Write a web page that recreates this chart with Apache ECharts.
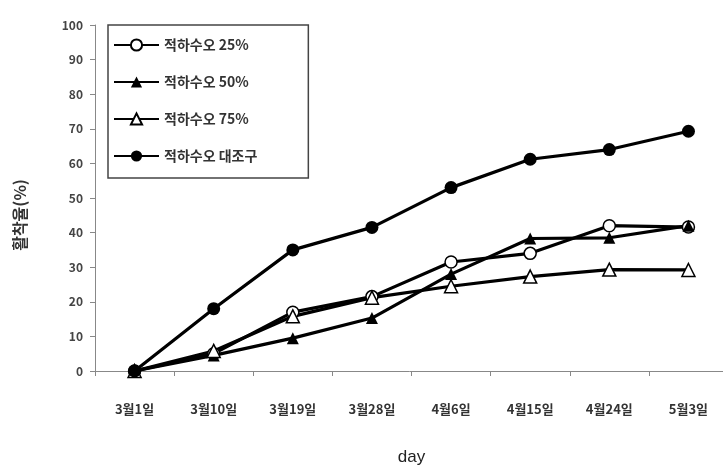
<!DOCTYPE html>
<html><head><meta charset="utf-8">
<script src="https://cdn.jsdelivr.net/npm/echarts@6/dist/echarts.min.js"></script>
<style>html,body{margin:0;padding:0;background:#fff}#c{width:723px;height:467px}</style>
</head><body><div id="c"></div>
<script>
const categories = ['3월1일','3월10일','3월19일','3월28일','4월6일','4월15일','4월24일','5월3일'];
const seriesNames = ['적하수오 25%','적하수오 50%','적하수오 75%','적하수오 대조구'];
const s25 = [0, 5, 17, 21.5, 31.5, 34, 42, 41.6];
const s50 = [0, 4.5, 9.5, 15.3, 28, 38.3, 38.5, 42];
const s75 = [0, 5.8, 15.8, 21.2, 24.5, 27.3, 29.3, 29.2];
const sCtl = [0, 18, 35, 41.5, 53, 61.2, 64, 69.3];
const yTicks = [0,10,20,30,40,50,60,70,80,90,100];
const yTitle = '활착율(%)';

const chart = echarts.init(document.getElementById('c'));
const font = '"Noto Sans CJK KR", "Noto Sans", sans-serif';
function mk(name, data, symbol, filled, size) {
  return {
    name, type: 'line', data, symbol, symbolSize: size,
    lineStyle: {color: '#000', width: 3.2},
    itemStyle: {color: filled ? '#000' : '#fff', borderColor: '#000', borderWidth: filled ? 0 : 1.5},
    emphasis: {disabled: true}, animation: false
  };
}
chart.setOption({
  animation: false,
  backgroundColor: '#fff',
  grid: {left: 95, top: 25, width: 633, height: 346, containLabel: false, outerBoundsMode: 'none'},
  legend: {
    orient: 'vertical', left: 108, top: 25,
    data: seriesNames,
    borderColor: '#444', borderWidth: 1.5,
    padding: [13, 51, 15, 5],
    itemGap: 23, itemWidth: 45, itemHeight: 14,
    textStyle: {fontFamily: font, fontSize: 14, fontWeight: 'bold', color: '#333'}
  },
  graphic: [{
    type: 'text', x: 20, y: 215,
    rotation: Math.PI / 2,
    style: {text: yTitle, font: 'bold 16px ' + font, fill: '#333', align: 'center', verticalAlign: 'middle'}
  }],
  xAxis: {
    type: 'category', data: categories, boundaryGap: true,
    name: 'day', nameLocation: 'middle', nameGap: 78,
    nameTextStyle: {fontFamily: 'Liberation Sans, Arial, sans-serif', fontSize: 17, color: '#222'},
    axisLine: {lineStyle: {color: '#888', width: 1}},
    axisTick: {show: true, alignWithLabel: false, length: 5, lineStyle: {color: '#888'}},
    axisLabel: {fontFamily: font, fontSize: 13, fontWeight: 'bold', color: '#333', margin: 32, interval: 0}
  },
  yAxis: {
    type: 'value', min: 0, max: 100, interval: 10,
    axisLine: {show: true, lineStyle: {color: '#888', width: 1}},
    axisTick: {show: true, length: 5, lineStyle: {color: '#888'}},
    splitLine: {show: false},
    axisLabel: {fontFamily: font, fontSize: 12, fontWeight: 'bold', color: '#444', margin: 12,
      formatter: v => yTicks.includes(v) ? String(v) : ''}
  },
  series: [
    mk(seriesNames[0], s25, 'circle', false, 12),
    mk(seriesNames[1], s50, 'triangle', true, 12),
    mk(seriesNames[2], s75, 'triangle', false, 13),
    mk(seriesNames[3], sCtl, 'circle', true, 13)
  ]
});
</script></body></html>
